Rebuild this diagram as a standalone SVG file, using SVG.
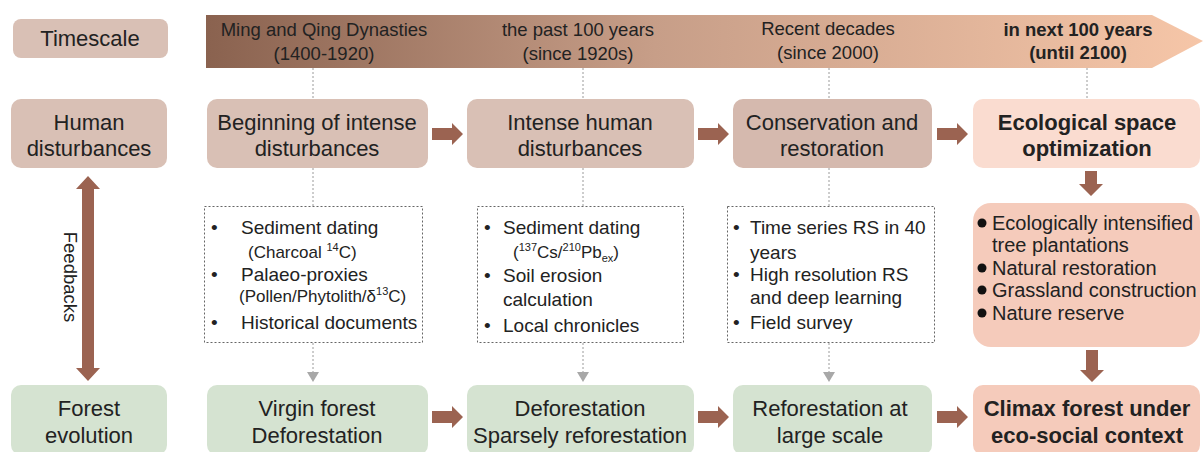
<svg xmlns="http://www.w3.org/2000/svg" width="1203" height="452" viewBox="0 0 1203 452">
<defs>
<linearGradient id="band" x1="206" y1="0" x2="1203" y2="0" gradientUnits="userSpaceOnUse">
<stop offset="0" stop-color="#8a624f"/>
<stop offset="0.45" stop-color="#c79e88"/>
<stop offset="1" stop-color="#f6c6a8"/>
</linearGradient>
<style>
text{font-family:"Liberation Sans",Arial,sans-serif;fill:#222}
.nt{font-size:22px;text-anchor:middle}
.bt{font-size:22px;text-anchor:middle;font-weight:bold}
.tt{font-size:18.5px;text-anchor:middle}
.m{font-size:19px}
.ms{font-size:17px}
.pb{font-size:20px}
.beige{fill:#d9c0b5}
.peach{fill:#fadcd0}
.pink{fill:#f5cbbb}
.green{fill:#d5e3d1}
.meth{fill:#fff;stroke:#666;stroke-width:1;stroke-dasharray:2 2}
.dash{stroke:#9a9a9a;stroke-width:1;stroke-dasharray:2 2;fill:none}
.ga{fill:#a8a8a8}
.ba{fill:#9b6351}
</style>
</defs>

<g id="timeline">
<polygon points="206,15 1152,15 1203,41 1152,68 206,68" fill="url(#band)"/>
<text class="tt" x="324" y="36">Ming and Qing Dynasties</text>
<text class="tt" x="324" y="60">(1400-1920)</text>
<text class="tt" x="578" y="36">the past 100 years</text>
<text class="tt" x="578" y="60">(since 1920s)</text>
<text class="tt" x="828" y="35">Recent decades</text>
<text class="tt" x="828" y="59">(since 2000)</text>
<text class="tt" x="1078" y="36" font-weight="bold">in next 100 years</text>
<text class="tt" x="1078" y="59" font-weight="bold">(until 2100)</text>
</g>

<g id="connectors">
<line class="dash" x1="313" y1="68" x2="313" y2="99"/>
<line class="dash" x1="313" y1="168" x2="313" y2="206"/>
<line class="dash" x1="313" y1="343" x2="313" y2="372"/>
<line class="dash" x1="583" y1="68" x2="583" y2="99"/>
<line class="dash" x1="583" y1="168" x2="583" y2="206"/>
<line class="dash" x1="583" y1="343" x2="583" y2="372"/>
<line class="dash" x1="829" y1="68" x2="829" y2="99"/>
<line class="dash" x1="829" y1="168" x2="829" y2="206"/>
<line class="dash" x1="829" y1="343" x2="829" y2="372"/>
<line class="dash" x1="1087" y1="68" x2="1087" y2="99"/>
<polygon class="ga" points="307,372 319,372 313,382"/>
<polygon class="ga" points="577,372 589,372 583,382"/>
<polygon class="ga" points="823,372 835,372 829,382"/>
<path class="ba" d="M432,128 H452 V123 L463,134 L452,145 V140 H432 Z"/>
<path class="ba" d="M698,128 H718 V123 L729,134 L718,145 V140 H698 Z"/>
<path class="ba" d="M937,128 H957 V123 L968,134 L957,145 V140 H937 Z"/>
<path class="ba" d="M432,411 H452 V406 L463,417 L452,428 V423 H432 Z"/>
<path class="ba" d="M698,411 H718 V406 L729,417 L718,428 V423 H698 Z"/>
<path class="ba" d="M937,411 H957 V406 L968,417 L957,428 V423 H937 Z"/>
<path class="ba" d="M1085,171 H1097 V184 H1103 L1091,196 L1079,184 H1085 Z"/>
<path class="ba" d="M1086,350 H1098 V370 H1104 L1092,382 L1080,370 H1086 Z"/>
<path class="ba" d="M88,176 L100,189 H94 V368 H100 L88,381 L76,368 H82 V189 H76 Z"/>
<text font-size="18.5" text-anchor="middle" transform="translate(70,277) rotate(90)" dy="6">Feedbacks</text>
</g>

<g id="label-timescale">
<rect class="beige" x="13" y="19" width="155" height="39" rx="8"/>
<text class="nt" font-size="21" x="90" y="46">Timescale</text>
</g>
<g id="label-human">
<rect class="beige" x="11" y="99" width="156" height="69" rx="10"/>
<text class="nt" x="89" y="130">Human</text>
<text class="nt" x="89" y="156">disturbances</text>
</g>
<g id="label-forest">
<rect class="green" x="11" y="385" width="156" height="70" rx="10"/>
<text class="nt" x="89" y="416">Forest</text>
<text class="nt" x="89" y="443">evolution</text>
</g>

<g id="h1">
<rect class="beige" x="207" y="99" width="221" height="69" rx="10"/>
<text class="nt" x="317" y="130">Beginning of intense</text>
<text class="nt" x="317" y="156">disturbances</text>
</g>
<g id="h2">
<rect class="beige" x="467" y="99" width="227" height="69" rx="10"/>
<text class="nt" x="580" y="130">Intense human</text>
<text class="nt" x="580" y="156">disturbances</text>
</g>
<g id="h3">
<rect x="733" y="99" width="199" height="69" rx="10" fill="#d5b9ae"/>
<text class="nt" x="832" y="130">Conservation and</text>
<text class="nt" x="832" y="156">restoration</text>
</g>
<g id="h4">
<rect class="peach" x="973" y="99" width="227" height="69" rx="10"/>
<text class="bt" x="1087" y="130">Ecological space</text>
<text class="bt" x="1087" y="156">optimization</text>
</g>

<g id="m1">
<rect class="meth" x="204.5" y="206.5" width="218" height="136"/>
<text class="m" x="211" y="234">•</text>
<text class="m" x="241" y="234">Sediment dating</text>
<text class="ms" x="248" y="258">(Charcoal <tspan font-size="11" dy="-7">14</tspan><tspan dy="7">C)</tspan></text>
<text class="m" x="211" y="281">•</text>
<text class="m" x="241" y="281">Palaeo-proxies</text>
<text class="ms" x="239" y="302">(Pollen/Phytolith/δ<tspan font-size="11" dy="-7">13</tspan><tspan dy="7">C)</tspan></text>
<text class="m" x="211" y="329">•</text>
<text class="m" x="241" y="329">Historical documents</text>
</g>
<g id="m2">
<rect class="meth" x="477.5" y="206.5" width="206" height="136"/>
<text class="m" x="484" y="234">•</text>
<text class="m" x="503" y="234">Sediment dating</text>
<text class="ms" x="513" y="258">(<tspan font-size="11" dy="-7">137</tspan><tspan dy="7">Cs/</tspan><tspan font-size="11" dy="-7">210</tspan><tspan dy="7">Pb</tspan><tspan font-size="11" dy="4">ex</tspan><tspan dy="-4">)</tspan></text>
<text class="m" x="484" y="282">•</text>
<text class="m" x="503" y="282">Soil erosion</text>
<text class="m" x="503" y="306">calculation</text>
<text class="m" x="484" y="332">•</text>
<text class="m" x="503" y="332">Local chronicles</text>
</g>
<g id="m3">
<rect class="meth" x="727.5" y="206.5" width="207" height="136"/>
<text class="m" x="733" y="234">•</text>
<text class="m" x="750" y="234">Time series RS in 40</text>
<text class="m" x="750" y="259">years</text>
<text class="m" x="733" y="281">•</text>
<text class="m" x="750" y="281">High resolution RS</text>
<text class="m" x="750" y="304">and deep learning</text>
<text class="m" x="733" y="329">•</text>
<text class="m" x="750" y="329">Field survey</text>
</g>
<g id="m4">
<rect class="pink" x="973" y="203" width="227" height="144" rx="18"/>
<circle cx="982" cy="223" r="4.5" fill="#111"/>
<text class="pb" x="992" y="230">Ecologically intensified</text>
<text class="pb" x="992" y="252">tree plantations</text>
<circle cx="982" cy="268" r="4.5" fill="#111"/>
<text class="pb" x="992" y="275">Natural restoration</text>
<circle cx="982" cy="290" r="4.5" fill="#111"/>
<text class="pb" x="992" y="297">Grassland construction</text>
<circle cx="982" cy="313" r="4.5" fill="#111"/>
<text class="pb" x="992" y="320">Nature reserve</text>
</g>

<g id="f1">
<rect class="green" x="207" y="385" width="221" height="70" rx="10"/>
<text class="nt" x="317" y="416">Virgin forest</text>
<text class="nt" x="317" y="443">Deforestation</text>
</g>
<g id="f2">
<rect class="green" x="467" y="385" width="227" height="70" rx="10"/>
<text class="nt" x="580" y="416">Deforestation</text>
<text class="nt" x="580" y="443">Sparsely reforestation</text>
</g>
<g id="f3">
<rect class="green" x="733" y="385" width="199" height="70" rx="10"/>
<text class="nt" x="830" y="416">Reforestation at</text>
<text class="nt" x="830" y="443">large scale</text>
</g>
<g id="f4">
<rect class="pink" x="973" y="385" width="227" height="70" rx="10"/>
<text class="bt" x="1087" y="416">Climax forest under</text>
<text class="bt" x="1087" y="443">eco-social context</text>
</g>
</svg>
